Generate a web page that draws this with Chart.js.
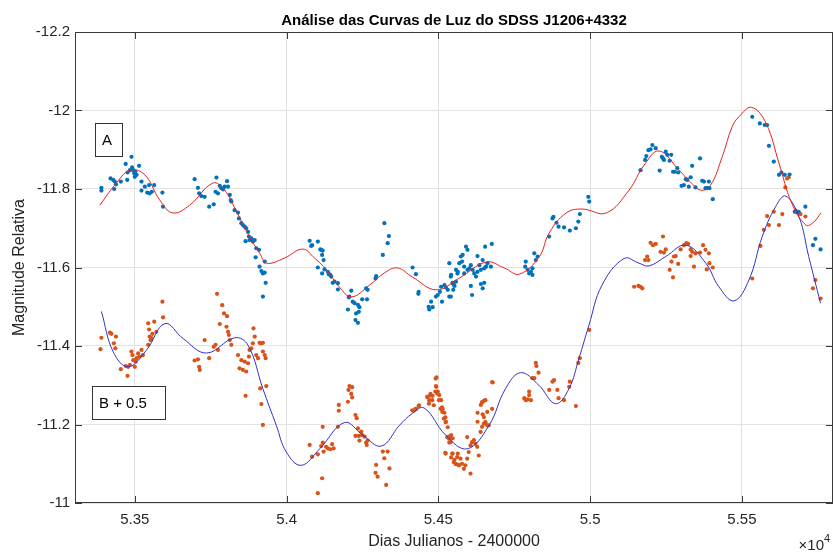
<!DOCTYPE html>
<html>
<head>
<meta charset="utf-8">
<script src="https://cdn.jsdelivr.net/npm/chart.js@4.4.1/dist/chart.umd.min.js"></script>
<style>
  html, body { margin: 0; padding: 0; background: #fff; }
</style>
</head>
<body>
<canvas id="myChart" width="833" height="552"></canvas>
<script>
// Series A (blue dots) - Julian day / 1e4, relative magnitude
const aDays = [
  5.3390,5.3390,5.3420,5.3429,5.3434,5.3438,5.3432,5.3454,5.3470,5.3476,
  5.3475,5.3484,5.3489,5.3491,5.3495,5.3498,5.3502,5.3506,5.3500,5.3514,
  5.3522,5.3522,5.3533,5.3541,5.3547,5.3549,5.3556,5.3564,5.3591,5.3593,
  5.3697,5.3708,5.3712,5.3719,5.3730,5.3745,5.3760,5.3769,5.3766,5.3774,
  5.3780,5.3785,5.3791,5.3796,5.3804,5.3807,5.3813,5.3816,5.3818,5.3829,
  5.3840,5.3843,5.3851,5.3856,5.3862,5.3867,5.3873,5.3876,5.3878,5.3884,
  5.3889,5.3895,5.3865,5.3900,5.3909,5.3898,5.3911,5.3917,5.3922,5.3928,
  5.3931,5.3922,5.3928,
  5.4076,5.4084,5.4081,5.4103,5.4111,5.4114,5.4119,5.4117,5.4122,5.4103,
  5.4117,5.4125,5.4136,5.4139,5.4144,5.4147,5.4152,5.4158,5.4169,5.4169,
  5.4207,5.4213,5.4205,5.4218,5.4202,5.4224,5.4235,5.4240,5.4238,5.4249,
  5.4229,5.4227,5.4235,5.4262,5.4267,5.4265,5.4295,5.4293,5.4322,5.4337,
  5.4333,5.4317,5.4415,5.4426,5.4435,5.4434,5.4468,5.4470,5.4476,5.4481,
  5.4492,5.4498,5.4505,5.4509,5.4520,5.4525,5.4531,5.4536,5.4542,5.4547,
  5.4553,5.4558,5.4536,5.4512,5.4564,
  5.4541,5.4547,5.4552,5.4549,5.4541,5.4558,5.4563,5.4569,5.4574,5.4580,
  5.4578,5.4585,5.4591,5.4596,5.4585,5.4596,5.4602,5.4607,5.4613,5.4618,
  5.4624,5.4629,5.4635,5.4640,5.4646,5.4651,5.4657,5.4662,5.4673,5.4676,
  5.4654,5.4629,5.4607,5.4611,5.4640,5.4646,5.4651,5.4788,5.4786,5.4794,
  5.4799,5.4805,5.4810,5.4816,5.4821,5.4827,5.4810,5.4865,5.4876,5.4879,
  5.4889,5.4896,5.4914,5.4933,5.4953,5.4961,5.4966,5.4994,5.4997,
  5.5166,5.5181,5.5185,5.5192,5.5199,5.5205,5.5216,5.5229,5.5236,5.5240,
  5.5243,5.5249,5.5254,5.5262,5.5267,5.5273,5.5279,5.5287,5.5290,5.5301,
  5.5309,5.5315,5.5320,5.5325,5.5331,5.5336,5.5347,5.5362,5.5369,5.5375,
  5.5380,5.5386,5.5391,5.5393,5.5404,5.5534,5.5559,5.5575,5.5583,5.5589,
  5.5605,5.5622,5.5630,5.5641,5.5657,5.5674,5.5687,5.5709,5.5742,5.5734,
  5.5759
];
const aMag = [
  -11.803,-11.796,-11.827,-11.823,-11.819,-11.812,-11.800,-11.819,-11.864,-11.842,
  -11.823,-11.848,-11.882,-11.855,-11.848,-11.840,-11.844,-11.836,-11.831,-11.859,
  -11.819,-11.796,-11.806,-11.791,-11.810,-11.789,-11.793,-11.810,-11.791,-11.755,
  -11.825,-11.803,-11.789,-11.782,-11.780,-11.755,-11.761,-11.829,-11.793,-11.789,
  -11.808,-11.802,-11.799,-11.806,-11.820,-11.806,-11.785,-11.772,-11.768,-11.746,
  -11.740,-11.725,-11.713,-11.708,-11.704,-11.700,-11.691,-11.679,-11.670,-11.674,
  -11.666,-11.670,-11.667,-11.649,-11.645,-11.626,-11.602,-11.591,-11.585,-11.587,
  -11.561,-11.526,-11.615,
  -11.668,-11.657,-11.655,-11.666,-11.646,-11.645,-11.643,-11.632,-11.619,-11.600,
  -11.585,-11.595,-11.589,-11.583,-11.581,-11.577,-11.561,-11.564,-11.560,-11.544,
  -11.526,-11.541,-11.524,-11.513,-11.493,-11.509,-11.505,-11.499,-11.487,-11.519,
  -11.483,-11.466,-11.459,-11.547,-11.543,-11.519,-11.578,-11.572,-11.713,-11.680,
  -11.662,-11.632,-11.600,-11.583,-11.538,-11.533,-11.500,-11.493,-11.513,-11.499,
  -11.526,-11.530,-11.538,-11.551,-11.555,-11.549,-11.543,-11.611,-11.581,-11.561,
  -11.553,-11.564,-11.526,-11.513,-11.589,
  -11.577,-11.560,-11.555,-11.543,-11.526,-11.594,-11.585,-11.611,-11.628,-11.632,
  -11.615,-11.602,-11.653,-11.645,-11.585,-11.594,-11.598,-11.606,-11.594,-11.585,
  -11.577,-11.589,-11.606,-11.594,-11.619,-11.598,-11.602,-11.611,-11.602,-11.660,
  -11.653,-11.629,-11.553,-11.530,-11.558,-11.547,-11.561,-11.615,-11.602,-11.594,
  -11.585,-11.589,-11.598,-11.636,-11.619,-11.628,-11.581,-11.679,-11.725,-11.729,
  -11.714,-11.704,-11.702,-11.694,-11.700,-11.717,-11.736,-11.780,-11.768,
  -11.848,-11.874,-11.884,-11.899,-11.901,-11.912,-11.904,-11.847,-11.882,-11.878,
  -11.874,-11.895,-11.887,-11.872,-11.887,-11.844,-11.844,-11.853,-11.842,-11.808,
  -11.810,-11.825,-11.823,-11.806,-11.830,-11.859,-11.804,-11.878,-11.821,-11.819,
  -11.802,-11.802,-11.819,-11.802,-11.774,-11.984,-11.967,-11.963,-11.963,-11.910,
  -11.870,-11.836,-11.842,-11.836,-11.837,-11.742,-11.742,-11.755,-11.673,-11.657,
  -11.646
];

// Series B shifted by +0.5 (orange dots)
const bDays = [
  5.3390,5.3387,5.3418,5.3423,5.3438,5.3431,5.3436,5.3454,5.3470,5.3476,
  5.3478,5.3484,5.3489,5.3492,5.3495,5.3500,5.3503,5.3506,5.3511,5.3516,
  5.3522,5.3527,5.3544,5.3547,5.3549,5.3552,5.3555,5.3558,5.3544,5.3564,
  5.3571,5.3591,5.3593,5.3697,5.3708,5.3712,5.3714,5.3730,5.3745,5.3760,
  5.3766,5.3771,5.3774,5.3780,5.3788,5.3794,5.3802,5.3804,5.3807,5.3810,
  5.3813,5.3818,5.3840,5.3845,5.3851,5.3856,5.3862,5.3867,5.3865,5.3873,
  5.3876,5.3878,5.3884,5.3889,5.3891,5.3895,5.3900,5.3906,5.3911,5.3917,
  5.3922,5.3922,5.3928,5.3931,5.3913,5.3917,5.3922,5.3933,
  5.4076,5.4084,5.4103,5.4114,5.4119,5.4122,5.4117,5.4103,5.4119,5.4130,
  5.4136,5.4144,5.4150,5.4155,5.4169,5.4172,5.4172,5.4202,5.4204,5.4207,
  5.4213,5.4216,5.4216,5.4227,5.4231,5.4235,5.4238,5.4240,5.4246,5.4249,
  5.4257,5.4262,5.4264,5.4267,5.4227,5.4295,5.4293,5.4300,5.4317,5.4322,
  5.4328,5.4333,5.4339,5.4418,5.4426,5.4435,5.4465,5.4470,5.4474,5.4481,
  5.4490,5.4494,5.4492,5.4498,5.4503,5.4509,5.4512,5.4514,5.4520,5.4523,
  5.4525,5.4531,5.4536,5.4542,5.4547,5.4536,5.4523,5.4542,5.4553,5.4558,
  5.4564,5.4567,5.4547,
  5.4414,5.4425,5.4436,5.4463,5.4469,5.4474,5.4480,5.4485,5.4491,5.4493,
  5.4496,5.4502,5.4507,5.4513,5.4518,5.4524,5.4529,5.4535,5.4540,5.4524,
  5.4546,5.4551,5.4557,5.4562,5.4568,5.4573,5.4578,5.4584,5.4589,5.4595,
  5.4600,5.4606,5.4595,5.4606,5.4611,5.4617,5.4622,5.4628,5.4633,5.4639,
  5.4644,5.4650,5.4650,5.4655,5.4661,5.4666,5.4644,5.4655,5.4677,5.4677,
  5.4661,
  5.4629,5.4640,5.4646,5.4651,5.4646,5.4654,5.4629,5.4679,5.4783,5.4788,
  5.4794,5.4799,5.4799,5.4805,5.4810,5.4816,5.4821,5.4823,5.4830,5.4865,
  5.4876,5.4881,5.4892,5.4896,5.4914,5.4931,5.4933,5.4953,5.4961,5.4966,
  5.4997,5.5145,5.5159,
  5.5166,5.5172,5.5181,5.5188,5.5192,5.5199,5.5207,5.5216,5.5232,5.5240,
  5.5243,5.5249,5.5262,5.5268,5.5273,5.5276,5.5282,5.5290,5.5298,5.5309,
  5.5317,5.5323,5.5331,5.5336,5.5331,5.5342,5.5347,5.5362,5.5372,5.5380,
  5.5384,5.5391,5.5393,5.5404,5.5534,5.5561,5.5572,5.5583,5.5589,5.5605,
  5.5622,5.5633,5.5649,5.5654,5.5643,5.5677,5.5682,5.5693,5.5709,5.5734,
  5.5742,5.5759
];
const bMag = [
  -11.421,-11.392,-11.434,-11.431,-11.424,-11.407,-11.394,-11.341,-11.349,-11.324,
  -11.347,-11.352,-11.386,-11.377,-11.364,-11.347,-11.360,-11.369,-11.381,-11.373,
  -11.390,-11.377,-11.458,-11.442,-11.424,-11.415,-11.420,-11.431,-11.403,-11.462,
  -11.436,-11.513,-11.473,-11.363,-11.366,-11.347,-11.339,-11.415,-11.369,-11.398,
  -11.403,-11.533,-11.390,-11.456,-11.504,-11.483,-11.449,-11.476,-11.436,-11.428,
  -11.415,-11.403,-11.377,-11.343,-11.364,-11.339,-11.360,-11.335,-11.273,-11.356,
  -11.373,-11.390,-11.394,-11.407,-11.445,-11.424,-11.377,-11.369,-11.408,-11.407,
  -11.408,-11.386,-11.377,-11.369,-11.292,-11.252,-11.199,-11.298,
  -11.148,-11.118,-11.124,-11.145,-11.154,-11.131,-11.063,-11.025,-11.194,-11.143,
  -11.139,-11.137,-11.150,-11.139,-11.194,-11.235,-11.250,-11.258,-11.288,-11.298,
  -11.278,-11.269,-11.295,-11.224,-11.216,-11.190,-11.171,-11.159,-11.182,-11.173,
  -11.169,-11.154,-11.148,-11.159,-11.171,-11.097,-11.077,-11.067,-11.131,-11.114,
  -11.046,-11.131,-11.088,-11.235,-11.239,-11.247,-11.271,-11.262,-11.278,-11.273,
  -11.284,-11.320,-11.298,-11.284,-11.275,-11.262,-11.244,-11.239,-11.230,-11.218,
  -11.207,-11.193,-11.169,-11.173,-11.165,-11.154,-11.128,-11.116,-11.110,-11.099,
  -11.126,-11.097,-11.126,
  -11.236,-11.240,-11.249,-11.270,-11.253,-11.274,-11.262,-11.249,-11.317,-11.296,
  -11.279,-11.262,-11.240,-11.232,-11.215,-11.206,-11.168,-11.164,-11.155,-11.126,
  -11.126,-11.104,-11.100,-11.117,-11.096,-11.113,-11.100,-11.087,-11.096,-11.113,
  -11.130,-11.075,-11.168,-11.147,-11.155,-11.160,-11.151,-11.143,-11.121,-11.181,
  -11.194,-11.202,-11.219,-11.206,-11.198,-11.198,-11.257,-11.262,-11.240,-11.308,
  -11.232,
  -11.230,-11.250,-11.258,-11.261,-11.226,-11.205,-11.207,-11.307,-11.267,-11.262,
  -11.264,-11.284,-11.275,-11.262,-11.318,-11.318,-11.357,-11.349,-11.332,-11.288,
  -11.309,-11.313,-11.288,-11.267,-11.262,-11.296,-11.309,-11.247,-11.357,-11.369,
  -11.441,-11.551,-11.553,
  -11.551,-11.547,-11.619,-11.628,-11.619,-11.663,-11.657,-11.660,-11.640,-11.679,
  -11.638,-11.646,-11.594,-11.615,-11.575,-11.628,-11.629,-11.609,-11.646,-11.657,
  -11.662,-11.660,-11.646,-11.640,-11.629,-11.602,-11.636,-11.638,-11.657,-11.645,
  -11.595,-11.636,-11.611,-11.600,-11.572,-11.655,-11.696,-11.731,-11.708,-11.742,
  -11.708,-11.736,-11.827,-11.830,-11.804,-11.745,-11.740,-11.736,-11.730,-11.547,
  -11.568,-11.521
];

// fitted curves (red for A, blue for B + 0.5)
const fitADays = [5.3385,5.3434,5.3484,5.3533,5.3582,5.3625,5.3681,5.3757,5.3796,5.3836,
  5.3878,5.3911,5.3934,5.3993,5.4053,5.4092,5.4132,5.4174,5.4214,5.4273,
  5.4322,5.4365,5.4414,5.4493,5.4569,5.4658,5.4717,5.4766,5.4832,5.4865,
  5.4921,5.4974,5.5053,5.5128,5.5178,5.5227,5.5293,5.5325,5.5365,5.5397,
  5.5435,5.5468,5.5490,5.5532,5.5579,5.5622,5.5664,5.5711,5.5737,5.5760];
const fitAMag = [-11.759,-11.810,-11.848,-11.836,-11.772,-11.739,-11.759,-11.815,-11.797,-11.741,
  -11.678,-11.637,-11.611,-11.624,-11.647,-11.624,-11.594,-11.550,-11.525,-11.555,
  -11.586,-11.599,-11.576,-11.543,-11.573,-11.614,-11.599,-11.583,-11.627,-11.688,
  -11.739,-11.749,-11.739,-11.797,-11.861,-11.897,-11.848,-11.822,-11.797,-11.810,
  -11.882,-11.959,-11.984,-12.008,-11.968,-11.866,-11.764,-11.708,-11.716,-11.739];

const fitBDays = [5.3390,5.3429,5.3478,5.3538,5.3599,5.3659,5.3736,5.3829,5.3873,5.3922,
  5.3966,5.3999,5.4048,5.4109,5.4191,5.4251,5.4312,5.4372,5.4414,5.4453,
  5.4524,5.4595,5.4667,5.4721,5.4771,5.4831,5.4886,5.4930,5.4963,5.4996,
  5.5039,5.5112,5.5161,5.5194,5.5249,5.5315,5.5381,5.5424,5.5474,5.5523,
  5.5567,5.5611,5.5644,5.5688,5.5720,5.5759];
const fitBMag = [-11.488,-11.385,-11.347,-11.389,-11.457,-11.419,-11.382,-11.421,-11.402,-11.291,
  -11.198,-11.130,-11.096,-11.138,-11.205,-11.173,-11.145,-11.198,-11.228,-11.242,
  -11.173,-11.138,-11.198,-11.291,-11.332,-11.300,-11.253,-11.291,-11.368,-11.453,
  -11.555,-11.623,-11.611,-11.604,-11.628,-11.657,-11.611,-11.551,-11.515,-11.568,
  -11.679,-11.755,-11.782,-11.729,-11.628,-11.509];

const xTicks = [5.35, 5.4, 5.45, 5.5, 5.55];
const yTicks = [-12.2, -12, -11.8, -11.6, -11.4, -11.2, -11];

const CHART = document.getElementById('myChart');
const FONT = '"Liberation Sans", Arial, Helvetica, sans-serif';
Chart.defaults.font.family = FONT;
Chart.defaults.color = '#262626';

const toPoints = (xs, ys) => xs.map((x, i) => ({x: x, y: ys[i]}));

// MATLAB-like box, inward ticks, text boxes and the x10^4 exponent
const axesDecor = {
    id: 'axesDecor',
    beforeDatasetsDraw(chart) {
        const {ctx, chartArea: a, scales: {x, y}} = chart;
        ctx.save();
        ctx.strokeStyle = '#3a3a3a';
        ctx.lineWidth = 1;
        ctx.strokeRect(a.left + 0.5, a.top + 0.5, a.right - a.left - 1, a.bottom - a.top - 1);
        ctx.beginPath();
        xTicks.forEach(v => {
            const px = Math.round(x.getPixelForValue(v)) + 0.5;
            ctx.moveTo(px, a.bottom); ctx.lineTo(px, a.bottom - 7);
            ctx.moveTo(px, a.top); ctx.lineTo(px, a.top + 7);
        });
        yTicks.forEach(v => {
            const py = Math.round(y.getPixelForValue(v)) + 0.5;
            ctx.moveTo(a.left, py); ctx.lineTo(a.left + 7, py);
            ctx.moveTo(a.right, py); ctx.lineTo(a.right - 7, py);
        });
        ctx.stroke();
        ctx.restore();
    },
    afterDatasetsDraw(chart) {
        const {ctx, chartArea: a} = chart;
        const label = (text, left, top, w, h) => {
            ctx.fillStyle = '#fff';
            ctx.fillRect(left, top, w, h);
            ctx.strokeStyle = '#333';
            ctx.lineWidth = 1;
            ctx.strokeRect(left + 0.5, top + 0.5, w, h);
            ctx.fillStyle = '#000';
            ctx.font = '15px ' + FONT;
            ctx.textBaseline = 'middle';
            ctx.textAlign = 'left';
            ctx.fillText(text, left + 7, top + h / 2 + 1);
        };
        ctx.save();
        label('A', a.left + 20, a.top + 91, 27, 33);
        label('B + 0.5', a.left + 17, a.top + 354, 73, 33);

        ctx.fillStyle = '#262626';
        ctx.textBaseline = 'alphabetic';
        ctx.textAlign = 'right';
        ctx.font = '15px ' + FONT;
        ctx.fillText('\u00d710', chart.width - 9, chart.height - 2);
        ctx.textAlign = 'left';
        ctx.font = '11px ' + FONT;
        ctx.fillText('4', chart.width - 9, chart.height - 10);
        ctx.restore();
    }
};

const lightChart = new Chart(CHART, {
    type: 'scatter',
    data: {
        datasets: [
            {
                label: 'Ajuste A',
                data: toPoints(fitADays, fitAMag),
                showLine: true,
                borderColor: '#e82020',
                borderWidth: 1,
                pointRadius: 0,
                tension: 0.4,
                order: 0
            },
            {
                label: 'Ajuste B',
                data: toPoints(fitBDays, fitBMag),
                showLine: true,
                borderColor: '#3232c4',
                borderWidth: 1,
                pointRadius: 0,
                tension: 0.4,
                order: 1
            },
            {
                label: 'A',
                data: toPoints(aDays, aMag),
                backgroundColor: '#0072bd',
                borderWidth: 0,
                pointRadius: 2.1,
                order: 2
            },
            {
                label: 'B + 0.5',
                data: toPoints(bDays, bMag),
                backgroundColor: '#d95319',
                borderWidth: 0,
                pointRadius: 2.1,
                order: 3
            }
        ]
    },
    options: {
        responsive: false,
        animation: false,
        layout: { padding: 0, autoPadding: false },
        plugins: {
            legend: { display: false },
            tooltip: { enabled: false },
            title: {
                display: true,
                fullSize: false,
                text: 'Análise das Curvas de Luz do SDSS J1206+4332',
                color: '#000',
                font: { size: 15, weight: 'bold' },
                padding: { top: 12, bottom: 2 }
            }
        },
        scales: {
            x: {
                type: 'linear',
                min: 5.3303,
                max: 5.58,
                afterBuildTicks: s => { s.ticks = xTicks.map(v => ({value: v})); },
                afterFit: s => { s.height = 49; s.paddingLeft = 0; s.paddingRight = 0; },
                ticks: {
                    padding: 8,
                    font: { size: 15 },
                    color: '#262626',
                    callback: v => String(+v.toFixed(2))
                },
                grid: { color: '#e2e2e2', drawTicks: false },
                border: { display: false },
                title: {
                    display: true,
                    text: 'Dias Julianos - 2400000',
                    font: { size: 16 },
                    color: '#262626',
                    padding: { top: 0, bottom: 1 }
                }
            },
            y: {
                type: 'linear',
                reverse: true,
                min: -12.2,
                max: -11,
                afterBuildTicks: s => { s.ticks = yTicks.map(v => ({value: v})); },
                afterFit: s => { s.width = 75; },
                ticks: {
                    padding: 5,
                    font: { size: 15 },
                    color: '#262626',
                    callback: v => String(+v.toFixed(1))
                },
                grid: { color: '#e2e2e2', drawTicks: false },
                border: { display: false },
                title: {
                    display: true,
                    text: 'Magnitude Relativa',
                    font: { size: 16 },
                    color: '#262626',
                    padding: { top: 10, bottom: 0 }
                }
            }
        }
    },
    plugins: [axesDecor]
});
</script>
</body>
</html>
